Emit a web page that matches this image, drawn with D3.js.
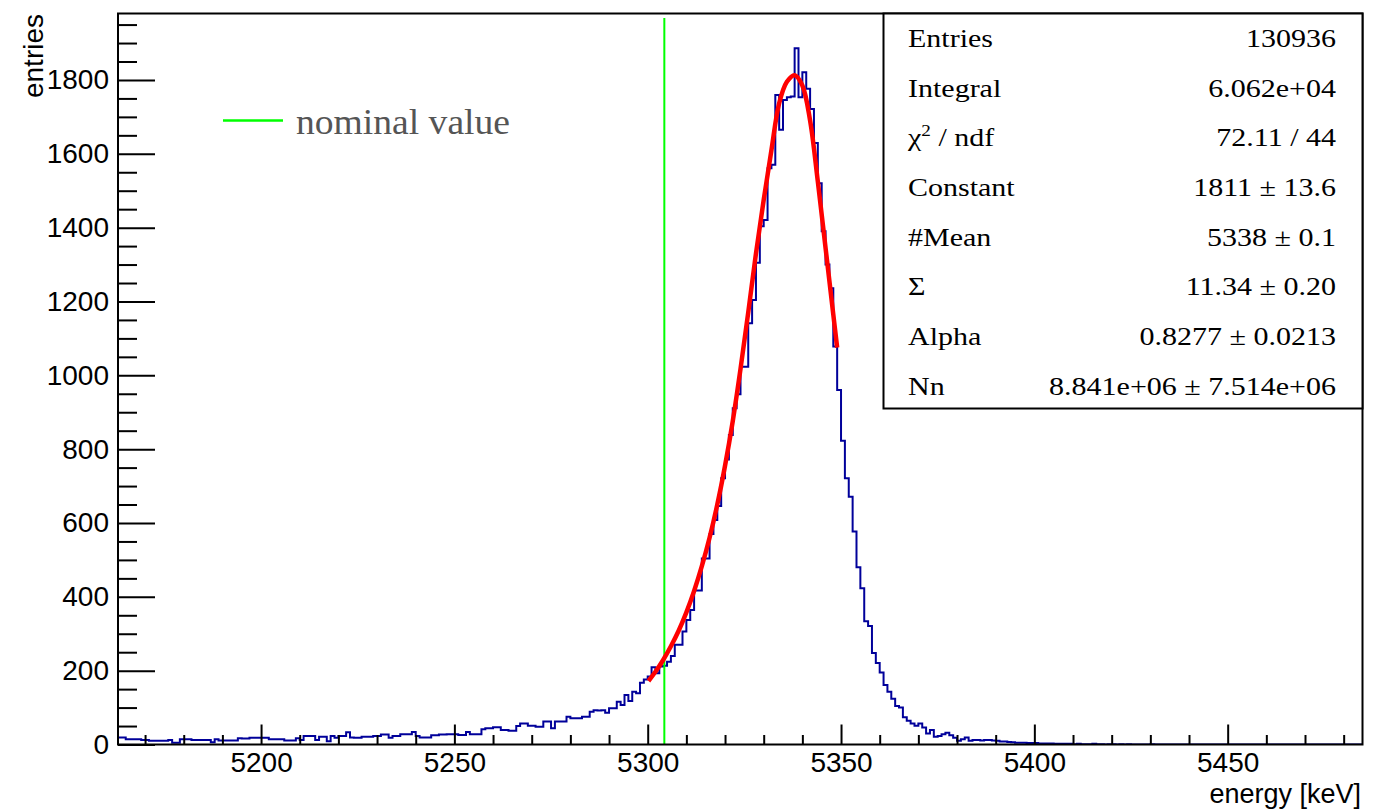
<!DOCTYPE html>
<html><head><meta charset="utf-8">
<script src="https://cdn.jsdelivr.net/npm/d3@7/dist/d3.min.js"></script>
<style>body{margin:0;background:#fff;overflow:hidden}</style>
</head><body>
<svg id="chart" width="1378" height="809"></svg>
<script>
// ---------------- data ----------------
const xMajorTicks = [5200, 5250, 5300, 5350, 5400, 5450];
const yMajorTicks = [0, 200, 400, 600, 800, 1000, 1200, 1400, 1600, 1800];
const binLow = 5163;      // left edge of first bin [keV]
const binWidth = 1;       // keV
const counts = [
  19, 19, 14, 14, 14, 14, 12, 12, 10, 10,
  10, 10, 10, 12, 5, 5, 14, 14, 14, 12,
  12, 12, 12, 12, 6, 14, 11, 11, 11, 11,
  11, 17, 16, 16, 18, 18, 18, 18, 18, 14,
  14, 14, 14, 11, 11, 11, 17, 12, 23, 23,
  23, 12, 21, 21, 9, 23, 18, 23, 23, 33,
  19, 18, 18, 21, 21, 21, 23, 23, 27, 27,
  18, 23, 23, 28, 28, 28, 34, 23, 19, 19,
  19, 25, 25, 27, 27, 28, 28, 28, 26, 26,
  34, 28, 28, 28, 41, 44, 44, 47, 47, 39,
  39, 37, 37, 50, 57, 57, 51, 51, 48, 48,
  62, 62, 44, 62, 62, 62, 75, 71, 71, 71,
  75, 75, 89, 93, 92, 93, 86, 98, 98, 116,
  107, 134, 118, 143, 139, 167, 176, 184, 209, 193,
  211, 213, 224, 240, 270, 270, 306, 337, 364, 417,
  417, 504, 504, 570, 608, 646, 721, 772, 838, 911,
  949, 1023, 1023, 1141, 1204, 1305, 1404, 1421, 1561, 1570,
  1759, 1665, 1746, 1753, 1755, 1886, 1753, 1821, 1776, 1721,
  1629, 1520, 1390, 1300, 1236, 1078, 960, 823, 721, 671,
  577, 480, 423, 334, 321, 248, 221, 195, 161, 143,
  124, 104, 100, 74, 64, 57, 51, 57, 46, 30,
  39, 21, 23, 28, 32, 25, 18, 10, 14, 19,
  10, 12, 12, 11, 12, 12, 11, 10, 8, 8,
  7, 6, 5, 5, 5, 4, 4, 4, 3, 3,
  3, 3, 2, 2, 2, 2, 2, 1, 2, 1,
  1, 1, 2, 1, 1, 0, 1, 1, 0, 1,
  0, 1, 0, 0, 0, 0, 0, 1, 0, 0,
  0, 0, 0, 0, 0, 0, 0, 0, 0, 0,
  0, 0, 0, 0, 0, 0, 0, 0, 0, 0,
  0, 0, 0, 0, 0, 0, 0, 0, 0, 0,
  0, 0, 0, 0, 0, 0, 0, 0, 0, 0,
  0, 0, 0, 0, 0, 0, 0, 0, 0, 0,
  0, 0
];
// fit curve
const fitEnergy = [5300.2, 5302, 5304, 5306, 5308, 5310, 5312, 5314, 5316, 5318, 5320, 5322, 5324, 5326, 5328, 5330, 5332, 5334, 5336, 5338, 5340, 5342, 5344, 5346, 5348, 5349];
const fitValue  = [172, 197, 229, 266, 308, 358, 416, 483, 560, 650, 755, 876, 1017, 1170, 1330, 1475, 1610, 1737, 1795, 1813, 1785, 1690, 1525, 1345, 1165, 1075];
const nominalEnergy = 5304.3;
const nominalTop = 1968;
const statLabels = ["Entries", "Integral", "χ2 / ndf", "Constant", "#Mean", "Σ", "Alpha", "Nn"];
const statValues = ["130936", "6.062e+04", "72.11 / 44", "1811 ± 13.6", "5338 ± 0.1", "11.34 ± 0.20", "0.8277 ± 0.0213", "8.841e+06 ± 7.514e+06"];
const legendLabel = "nominal value";
const xTitle = "energy [keV]";
const yTitle = "entries";

// ---------------- layout ----------------
const frame = {left: 118, right: 1362.5, top: 13.5, bottom: 744.5};
const svg = d3.select("#chart");
const x = d3.scaleLinear().domain([5163, 5485]).range([frame.left, 1363]);
const y = d3.scaleLinear().domain([0, 1980]).range([frame.bottom, frame.top]);
const sansFont = "'Liberation Sans', Arial, Helvetica, sans-serif";
const serifFont = "'Liberation Serif', 'Times New Roman', serif";

svg.append("defs").append("clipPath").attr("id", "clip")
  .append("rect").attr("x", frame.left).attr("y", frame.top)
  .attr("width", frame.right - frame.left).attr("height", frame.bottom - frame.top);

// histogram
const pts = counts.map((c, i) => [binLow + i * binWidth, c]);
pts.push([binLow + counts.length * binWidth, counts[counts.length - 1]]);
const stepLine = d3.line().x(d => x(d[0])).y(d => y(d[1])).curve(d3.curveStepAfter);
svg.append("path").attr("clip-path", "url(#clip)")
  .attr("d", stepLine(pts)).attr("fill", "none")
  .attr("stroke", "#00009a").attr("stroke-width", 2);

// nominal value line
svg.append("line")
  .attr("x1", x(nominalEnergy)).attr("x2", x(nominalEnergy))
  .attr("y1", y(0)).attr("y2", y(nominalTop))
  .attr("stroke", "#00ff00").attr("stroke-width", 2);

// fit curve
const fitLine = d3.line().x((d, i) => x(fitEnergy[i])).y(d => y(d)).curve(d3.curveCatmullRom);
svg.append("path").attr("d", fitLine(fitValue)).attr("fill", "none")
  .attr("stroke", "#ff0000").attr("stroke-width", 4.5).attr("stroke-linecap", "butt");

// axes
const xMinor = d3.range(5170, 5485, 10).filter(v => v % 50 !== 0);
const yMinor = d3.range(50, 1980, 50).filter(v => v % 200 !== 0);

function styleAxis(g) {
  g.select(".domain").remove();
  g.selectAll(".tick line").attr("stroke", "#000").attr("stroke-width", 2);
  g.selectAll("text").attr("fill", "#000").attr("font-family", sansFont).attr("font-size", 28);
}
svg.append("g").attr("transform", `translate(0,${frame.bottom})`)
  .call(d3.axisBottom(x).tickValues(xMinor).tickSize(-9.5).tickFormat(""))
  .call(styleAxis);
svg.append("g").attr("transform", `translate(0,${frame.bottom})`)
  .call(d3.axisBottom(x).tickValues(xMajorTicks).tickSize(-20).tickPadding(8).tickFormat(d3.format("d")))
  .call(styleAxis);
svg.append("g").attr("transform", `translate(${frame.left},0)`)
  .call(d3.axisLeft(y).tickValues(yMinor).tickSize(-19).tickFormat(""))
  .call(styleAxis);
svg.append("g").attr("transform", `translate(${frame.left},0)`)
  .call(d3.axisLeft(y).tickValues(yMajorTicks).tickSize(-37).tickPadding(9).tickFormat(d3.format("d")))
  .call(styleAxis);

// frame
svg.append("rect").attr("x", frame.left).attr("y", frame.top)
  .attr("width", frame.right - frame.left).attr("height", frame.bottom - frame.top)
  .attr("fill", "none").attr("stroke", "#000").attr("stroke-width", 2);

// axis titles
svg.append("text").attr("x", 1361).attr("y", 803).attr("text-anchor", "end")
  .attr("font-family", sansFont).attr("font-size", 27).text(xTitle);
svg.append("text").attr("transform", "translate(43,14) rotate(-90)").attr("text-anchor", "end")
  .attr("font-family", sansFont).attr("font-size", 28).text(yTitle);

// legend
svg.append("line").attr("x1", 223).attr("x2", 283).attr("y1", 120.5).attr("y2", 120.5)
  .attr("stroke", "#00ff00").attr("stroke-width", 2.5);
svg.append("text").attr("x", 296).attr("y", 134)
  .attr("font-family", serifFont).attr("font-size", 36).attr("fill", "#555")
  .attr("textLength", 214).attr("lengthAdjust", "spacingAndGlyphs").text(legendLabel);

// stats box
const box = {x: 883.5, y: frame.top, w: 1362.5 - 883.5, h: 408.5 - frame.top};
svg.append("rect").attr("x", box.x).attr("y", box.y).attr("width", box.w).attr("height", box.h)
  .attr("fill", "#fff").attr("stroke", "#000").attr("stroke-width", 2);
const rowY = d3.scaleLinear().domain([0, statLabels.length - 1]).range([47, 394.5]);
statLabels.forEach((lab, i) => {
  const t = svg.append("text").attr("transform", `translate(908,${rowY(i)}) scale(1.2,1)`)
    .attr("font-family", serifFont).attr("font-size", 25).attr("fill", "#000");
  if (lab.startsWith("χ2")) {
    t.append("tspan").text("χ");
    t.append("tspan").attr("font-size", 16).attr("dy", -10).text("2");
    t.append("tspan").attr("dy", 10).text(" / ndf");
  } else t.text(lab);
  svg.append("text").attr("transform", `translate(1336,${rowY(i)}) scale(1.2,1)`)
    .attr("text-anchor", "end").attr("font-family", serifFont).attr("font-size", 25)
    .attr("fill", "#000").text(statValues[i]);
});
</script>
</body></html>
